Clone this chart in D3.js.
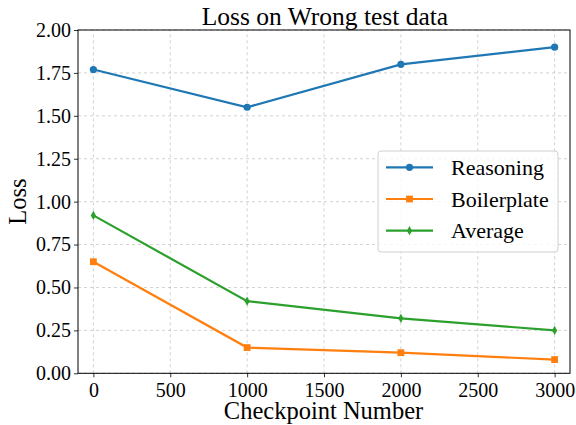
<!DOCTYPE html>
<html><head><meta charset="utf-8">
<script src="https://cdn.jsdelivr.net/npm/d3@7"></script>
<style>body{margin:0;background:#fff}svg{display:block}text{font-family:"Liberation Serif","Times New Roman",serif;fill:#000}
.tick text{font-family:"Liberation Serif","Times New Roman",serif !important;font-size:20px !important;fill:#000 !important}</style>
</head><body>
<script>
const checkpoints = [0, 1000, 2000, 3000];
const reasoning = [1.77, 1.55, 1.80, 1.90];
const boilerplate = [0.65, 0.15, 0.12, 0.08];
const average = [0.92, 0.42, 0.32, 0.25];
const seriesNames = ["Reasoning", "Boilerplate", "Average"];
const xTicks = [0, 500, 1000, 1500, 2000, 2500, 3000];
const yTicks = [0, 0.25, 0.5, 0.75, 1.0, 1.25, 1.5, 1.75, 2.0];

const W = 576, H = 425;
const m = {l: 78, r: 6, t: 30, b: 52};
const FONT = '"Liberation Serif","Times New Roman",serif';
const svg = d3.select("body").append("svg").attr("width", W).attr("height", H);
const x = d3.scaleLinear().domain([-100, 3100]).range([m.l, W - m.r]);
const y = d3.scaleLinear().domain([0, 2]).range([H - m.b + 0.3, m.t]);

// grid
const g = svg.append("g");
g.selectAll(".gx").data(xTicks).join("line")
  .attr("x1", d => x(d)).attr("x2", d => x(d)).attr("y1", y(0)).attr("y2", y(2))
  .attr("stroke", "#b0b0b0").attr("stroke-width", 0.8).attr("stroke-dasharray", "3,3").attr("opacity", 0.7);
g.selectAll(".gy").data(yTicks).join("line")
  .attr("x1", x(-100)).attr("x2", x(3100)).attr("y1", d => y(d)).attr("y2", d => y(d))
  .attr("stroke", "#b0b0b0").attr("stroke-width", 0.8).attr("stroke-dasharray", "3,3").attr("opacity", 0.7);

// axes
const xa = svg.append("g").attr("transform", `translate(0,${y(0)})`)
  .call(d3.axisBottom(x).tickValues(xTicks).tickSize(4).tickPadding(4).tickFormat(d3.format("d")));
const ya = svg.append("g").attr("transform", `translate(${x(-100)},0)`)
  .call(d3.axisLeft(y).tickValues(yTicks).tickSize(4).tickPadding(3).tickFormat(d3.format(".2f")));
[xa, ya].forEach(a => {
  a.attr("font-family", FONT).attr("font-size", 20);
  a.select(".domain").remove();
  a.selectAll(".tick text").attr("fill", "#000");
  a.selectAll(".tick line").attr("stroke", "#000").attr("stroke-width", 0.8);
});
xa.selectAll(".tick text").attr("dy", null).attr("y", 24);
svg.append("rect").attr("x", x(-100)).attr("y", y(2)).attr("width", x(3100) - x(-100)).attr("height", y(0) - y(2))
  .attr("fill", "none").attr("stroke", "#000").attr("stroke-width", 1);

const colors = ["#1f77b4", "#ff7f0e", "#2ca02c"];
const datasets = [reasoning, boilerplate, average];
const line = d3.line().x((d, i) => x(checkpoints[i])).y(d => y(d));

function marker(sel, type, color) {
  if (type === 0) sel.append("circle").attr("r", 3.6).attr("fill", color);
  else if (type === 1) sel.append("rect").attr("x", -3.4).attr("y", -3.4).attr("width", 6.8).attr("height", 6.8).attr("fill", color);
  else sel.append("path").attr("d", "M0,-4.6L2.6,0L0,4.6L-2.6,0Z").attr("fill", color);
}

datasets.forEach((ds, k) => {
  svg.append("path").datum(ds).attr("d", line).attr("fill", "none").attr("stroke", colors[k]).attr("stroke-width", 2.2);
  ds.forEach((v, i) => {
    const mg = svg.append("g").attr("transform", `translate(${x(checkpoints[i])},${y(v)})`);
    marker(mg, k, colors[k]);
  });
});

// legend
const lg = svg.append("g");
lg.append("rect").attr("x", 378).attr("y", 151).attr("width", 180).attr("height", 101).attr("rx", 3)
  .attr("fill", "#fff").attr("fill-opacity", 0.8).attr("stroke", "#d0d0d0").attr("stroke-width", 1);
seriesNames.forEach((n, k) => {
  const yy = 167.3 + k * 31.7;
  lg.append("line").attr("x1", 386).attr("x2", 433).attr("y1", yy).attr("y2", yy).attr("stroke", colors[k]).attr("stroke-width", 2.2);
  const mg = lg.append("g").attr("transform", `translate(409.5,${yy})`);
  marker(mg, k, colors[k]);
  lg.append("text").attr("x", 451).attr("y", yy).attr("dy", "0.35em").style("font-size", "22px").text(n);
});

svg.append("text").attr("x", 325).attr("y", 25).attr("text-anchor", "middle").style("font-size", "25.5px").text("Loss on Wrong test data");
svg.append("text").attr("x", 323.5).attr("y", 419).attr("text-anchor", "middle").style("font-size", "24.5px").text("Checkpoint Number");
svg.append("text").attr("transform", `translate(26,${(y(0) + y(2)) / 2}) rotate(-90)`).attr("text-anchor", "middle").style("font-size", "24.5px").text("Loss");
</script>
</body></html>
